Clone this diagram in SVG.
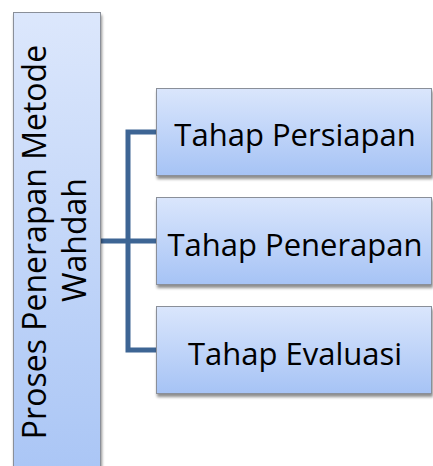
<svg xmlns="http://www.w3.org/2000/svg" width="433" height="466" viewBox="0 0 433 466">
<defs>
<linearGradient id="gBox" x1="0" y1="0" x2="0" y2="1">
<stop offset="0" stop-color="#dae6fc"/>
<stop offset="1" stop-color="#a6c3f5"/>
</linearGradient>
<linearGradient id="gTall" x1="0" y1="0" x2="0" y2="1">
<stop offset="0" stop-color="#dce7fc"/>
<stop offset="1" stop-color="#a9c5f5"/>
</linearGradient>
<filter id="sh" x="-10%" y="-10%" width="120%" height="130%">
<feGaussianBlur in="SourceAlpha" stdDeviation="1.5"/>
<feOffset dx="1" dy="2.5" result="b"/>
<feComponentTransfer><feFuncA type="linear" slope="0.45"/></feComponentTransfer>
<feMerge><feMergeNode/><feMergeNode in="SourceGraphic"/></feMerge>
</filter>
</defs>
<style>
.box{stroke:#8a8f99;stroke-width:1;filter:url(#sh)}
.t{font-family:"Open Sans","Noto Sans",sans-serif;font-size:31px;fill:#000;text-anchor:middle}
.v{font-family:"Open Sans","Noto Sans",sans-serif;font-size:32px;fill:#000;text-anchor:middle}
.c{fill:none;stroke:#3d6594;stroke-width:5}
</style>
<rect width="433" height="466" fill="#ffffff"/>
<g id="connectors">
<path class="c" d="M100,241 H156 M156,132 H128 V350 H156"/>
</g>
<g id="main">
<rect class="box" x="13.5" y="12.5" width="87" height="470" fill="url(#gTall)"/>
<text class="v" transform="translate(46,242) rotate(-90)">Proses Penerapan Metode</text>
<text class="v" transform="translate(86,240) rotate(-90)">Wahdah</text>
</g>
<g id="n1">
<rect class="box" x="156.5" y="88.5" width="275" height="87" fill="url(#gBox)"/>
<text class="t" x="295" y="146">Tahap Persiapan</text>
</g>
<g id="n2">
<rect class="box" x="156.5" y="197.5" width="275" height="87" fill="url(#gBox)"/>
<text class="t" x="295" y="256">Tahap Penerapan</text>
</g>
<g id="n3">
<rect class="box" x="156.5" y="306.5" width="275" height="87" fill="url(#gBox)"/>
<text class="t" x="295" y="365">Tahap Evaluasi</text>
</g>
</svg>
